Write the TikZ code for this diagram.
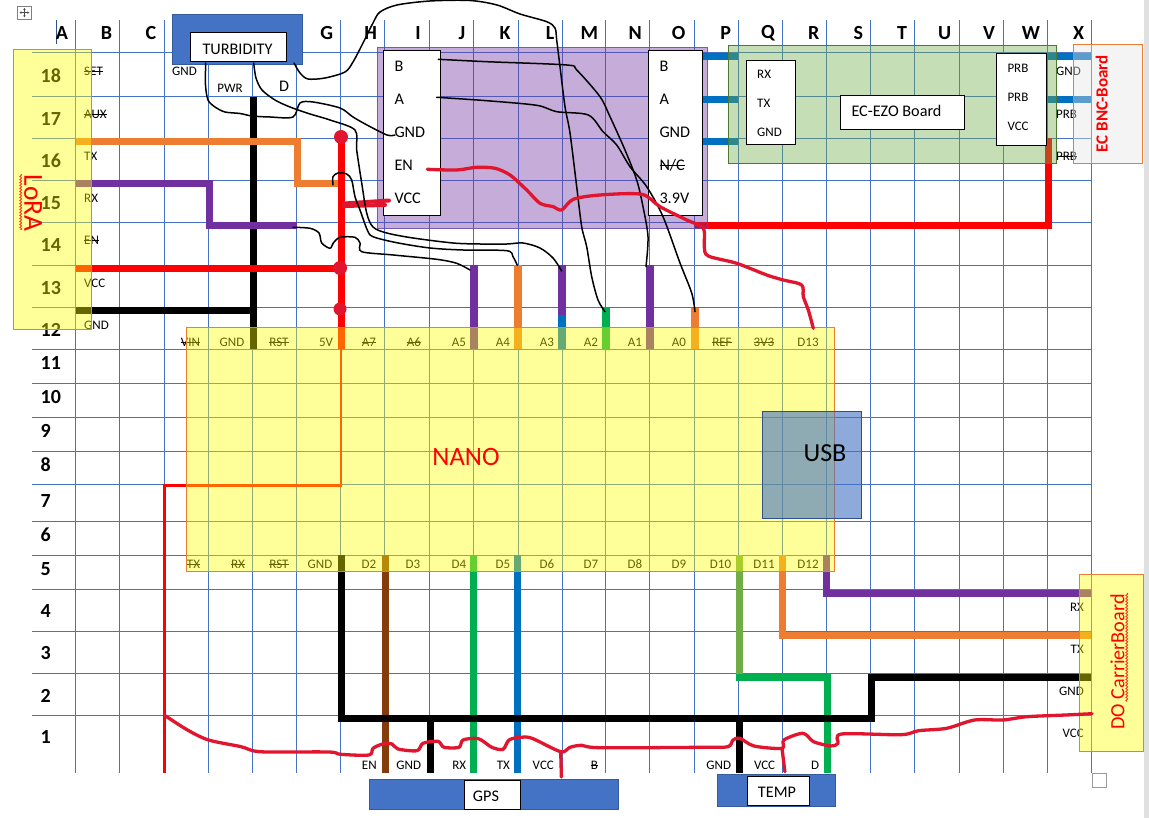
\documentclass[tikz,border=0pt]{standalone}
\usepackage{fontspec}
\setmainfont{Carlito}
\usetikzlibrary{decorations.pathmorphing,arrows.meta}
\newcommand{\strk}[1]{\leavevmode\setbox0=\hbox{#1}\rlap{\rule[.26em]{\wd0}{.6pt}}\box0}
\definecolor{gridblue}{HTML}{4472C4}
\definecolor{wOrange}{HTML}{ED7D31}
\definecolor{wPurple}{HTML}{7030A0}
\definecolor{wBlue}{HTML}{0070C0}
\definecolor{wGreen}{HTML}{00B050}
\definecolor{wLime}{HTML}{70AD47}
\definecolor{wBrown}{HTML}{843C0C}
\definecolor{inkred}{HTML}{E2152F}
\definecolor{boardY}{RGB}{255,255,0}
\definecolor{pureR}{RGB}{255,0,0}
\tikzset{
  gridline/.style={gridblue,line width=1pt},
  wire/.style={line width=7pt,line cap=butt,line join=miter},
  pinwire/.style={line width=8pt,line cap=butt},
  thinred/.style={pureR,line width=2.6pt,line join=miter},
  inkblack/.style={black,line width=1.5pt,line cap=round,line join=round},
  inkr/.style={inkred,line width=3.3pt,line cap=round,line join=round},
  yboard/.style={draw=wOrange,line width=1pt,fill=boardY,fill opacity=.4},
  whitebox/.style={draw=black,line width=1pt,fill=white},
  bluebox/.style={draw=gridblue!80!black,line width=1pt,fill=gridblue},
  txt/.style={inner sep=0pt,font=\fontsize{13}{15}\selectfont},
  bigt/.style={inner sep=0pt,font=\fontsize{16.2}{19}\selectfont},
  lbl/.style={inner sep=0pt,font=\fontsize{20}{24}\selectfont\bfseries},
  squiggle/.style={pureR,line width=.6pt,decorate,decoration={snake,amplitude=1pt,segment length=3pt}},
}
\begin{document}
\begin{tikzpicture}[x=1pt,y=-1pt]
\path[use as bounding box,fill=white] (0,0) rectangle (1149,818);
\fill[black!12] (1144.3,0) rectangle (1149,818);
% grid
\foreach \yy in {53,96.5,138.5,180.5,222.5,265.5,307.5,349.3,383.3,417.3,451.3,484.3,521.3,555.3,589.5,631.5,673.5,715.5}
  \draw[gridline] (32,\yy) -- (1091,\yy);
\foreach \xx in {75.5,119.5,164.3,208.5,252.5,296.5,340.5,384.5,429.5,473,518,562,605.5,649.5,694.5,738.6,782.5,826.5,870,914,959,1003,1047,1091}
  \draw[gridline] (\xx,20) -- (\xx,772.7);
\draw[gridblue!70!black,line width=.7pt] (56,20) -- (56,44);
% column heads
\foreach \cn/\cx in {A/62,B/106.5,C/151,G/326.7,H/370.7,I/418,J/462,K/505,L/550,M/589.3,N/635.3,O/678.7,P/725.7,Q/768,R/813.7,S/858.3,T/902,U/944.7,V/989,W/1031,X/1078.7}
  \node[lbl] (col\cn) at (\cx,33.5) {\cn};
% row heads
\foreach \rn/\ry in {18/75.3,17/118.7,16/160.7,15/202.7,14/244.7,13/288,12/330,11/362.7,10/396.7,9/430.7,8/465,7/500.7,6/534.7,5/568.7,4/611.3,3/653.3,2/695.7,1/737.3}
  \node[lbl,anchor=west] (row\rn) at (40.5,\ry) {\rn};
% cell texts
\node[txt,anchor=west] (tSET) at (84,71) {\strk{SET}};
\node[txt,anchor=west] (tAUX) at (84,114) {\strk{AUX}};
\node[txt,anchor=west] (tTX) at (84,156) {TX};
\node[txt,anchor=west] (tRX) at (84,198) {RX};
\node[txt,anchor=west] (tEN) at (84,240) {\strk{EN}};
\node[txt,anchor=west] (tVCC) at (84,283) {VCC};
\node[txt,anchor=west] (tGND) at (84,325) {GND};
\node[txt] (tbGND) at (184.5,71) {GND};
\node[txt] (tbPWR) at (230,88) {PWR};
\node[bigt] (tbD) at (284,86) {D};
\foreach \tn/\tx/\tt in {VIN/190.5/\strk{VIN},GND/232/GND,RST/279/\strk{RST},VV/326/5V,AS/369/\strk{A7},AX/414/\strk{A6},AF/459/A5,AV/503/A4,AT/547/A3,AW/591/A2,AU/635/A1,AZ/679/A0,REF/722/\strk{REF},TVT/764/\strk{3V3},DT/808/D13}
  \node[txt] (np\tn) at (\tx,342) {\tt};
\foreach \tn/\tx/\tt in {TX/193.5/\strk{TX},RX/238/\strk{RX},RST/279/\strk{RST},GND/320/GND,D2/369/D2,D3/413/D3,D4/459/D4,D5/503/D5,D6/547/D6,D7/591/D7,D8/635/D8,D9/679/D9,DA/720.5/D10,DB/764/D11,DC/808/D12}
  \node[txt] (ns\tn) at (\tx,564.3) {\tt};
\foreach \tn/\tx/\tt in {EN/369.3/EN,GND/408.7/GND,RX/459.3/RX,TX/503.3/TX,VCC/543.3/VCC,B/594.3/\strk{B}}
  \node[txt] (gp\tn) at (\tx,765) {\tt};
\foreach \tn/\tx/\tt in {GND/718.7/GND,VCC/764.6/VCC,D/815/D}
  \node[txt] (tp\tn) at (\tx,765) {\tt};
\node[txt,anchor=east] (doRX) at (1084,607) {RX};
\node[txt,anchor=east] (doTX) at (1084,649) {TX};
\node[txt,anchor=east] (doGND) at (1084,691) {GND};
\node[txt,anchor=east] (doVCC) at (1084,733) {VCC};
\node[txt,anchor=west] (bnGND) at (1056,71) {GND};
\node[txt,anchor=west] (bnPA) at (1056,114) {PRB};
\node[txt,anchor=west] (bnPB) at (1056,156) {\strk{PRB}};
% pin coordinates
\coordinate (nGND) at (253,349.3);
\coordinate (n5V) at (341,349.3);
\coordinate (sGND) at (341,555.3);
\coordinate (sD2) at (385.4,555.3);
\coordinate (sD4) at (473.8,555.3);
\coordinate (sD5) at (517.8,555.3);
\coordinate (sD10) at (739,555.3);
\coordinate (sD11) at (782.8,555.3);
\coordinate (sD12) at (826.9,555.3);
\coordinate (oGND) at (1091,677);
\coordinate (oTX) at (1091,635);
\coordinate (oRX) at (1091,593);
\coordinate (lTX) at (75.5,142);
\coordinate (lRX) at (75.5,184);
\coordinate (lVCC) at (75.5,269);
\coordinate (lGND) at (75.5,311);
% wires beneath the boards
\draw[wire,black] (253,96.7) -- (nGND);
\draw[wire,black] (lGND) -- (253,311);
\draw[wire,wOrange] (lTX) -- (297.3,142) -- (297.3,184) -- (341,184);
\draw[wire,wPurple] (lRX) -- (209,184) -- (209,226) -- (297,226);
\draw[wire,pureR] (lVCC) -- (341,269);
\draw[wire,pureR] (341,137) -- (n5V);
\draw[thinred] (n5V) -- (341,485.3) -- (164.3,485.3) -- (164.3,772.7);
\draw[wire,pureR] (695,226) -- (1048,226) -- (1048,138.5);
\draw[pinwire,wPurple] (474,265.3) -- (474,349.3);
\draw[pinwire,wOrange] (518,265.3) -- (518,349.3);
\draw[pinwire,wPurple] (561.7,265.3) -- (561.7,315);
\draw[pinwire,wBlue] (561.7,315) -- (561.7,349.3);
\draw[pinwire,wGreen] (605.7,307.7) -- (605.7,349.3);
\draw[pinwire,wPurple] (650,265.3) -- (650,349.3);
\draw[pinwire,wOrange] (694.5,307.7) -- (694.5,349.3);
\draw[wire,wBrown] (sD2) -- (385.4,772.7);
\draw[wire,wGreen] (sD4) -- (473.8,772.7);
\draw[wire,wBlue] (sD5) -- (517.8,772.7);
\draw[wire,wLime] (sD10) -- (739,677);
\draw[wire,wGreen] (735.5,677) -- (827,677) -- (827,772.7);
\draw[wire,wOrange] (sD11) -- (782.8,635) -- (oTX);
\draw[wire,wPurple] (sD12) -- (826.9,593) -- (oRX);
\draw[wire,black] (sGND) -- (341,718.3) -- (871,718.3) -- (871,677) -- (oGND);
\draw[wire,black] (430,718.3) -- (430,772.7);
\draw[wire,black] (739,718.3) -- (739,772.7);
% boards
\node[draw=wPurple!60!gridblue,line width=1pt,fill=wPurple,fill opacity=.4,draw opacity=.8,minimum width=330.6pt,minimum height=181.6pt,inner sep=0pt,anchor=north west] (rs) at (376.7,46.7) {};
\draw[wire,wBlue] (700,56.7) -- (738.3,56.7);
\draw[wire,wBlue] (700,100) -- (738.3,100);
\draw[wire,wBlue] (700,141.7) -- (738.3,141.7);
\draw[wire,wBlue] (1047,57) -- (1091,57);
\draw[wire,wBlue] (1047,100) -- (1091,100);
\node[draw=wLime!70!black,line width=1pt,fill=wLime,fill opacity=.4,minimum width=327.4pt,minimum height=118pt,inner sep=0pt,anchor=north west] (ezo) at (728.3,45.3) {};
\node[draw=wOrange,line width=1pt,fill=black!10,fill opacity=.4,minimum width=68.4pt,minimum height=119pt,inner sep=0pt,anchor=north west] (bnc) at (1073.3,44.3) {};
\node[yboard,minimum width=78pt,minimum height=280pt,inner sep=0pt,anchor=north west] (lora) at (12.5,49.5) {};
\node[yboard,minimum width=648.8pt,minimum height=243.8pt,inner sep=0pt,anchor=north west] (nano) at (185.5,327.5) {};
\node[yboard,minimum width=63.4pt,minimum height=176.4pt,inner sep=0pt,anchor=north west] (doboard) at (1079.3,574.3) {};
\node[draw=gridblue!70!black,line width=1pt,fill=gridblue,fill opacity=.6,text opacity=1,minimum width=98.4pt,minimum height=106.4pt,inner sep=0pt,anchor=north west] (usb) at (762.3,411.3) {};
\node[inner sep=0pt,font=\fontsize{26}{30}\selectfont] (usbt) at (825,453) {USB};
\node[inner sep=0pt,text=pureR,font=\fontsize{26.5}{30}\selectfont] (nanot) at (466,457) {NANO};
\node[inner sep=0pt,text=pureR,rotate=-90,font=\fontsize{27.5}{30}\selectfont] (lorat) at (33,203) {LoRA};
\draw[squiggle] (20.7,174) -- (20.7,230);
\node[inner sep=0pt,text=pureR,rotate=90,font=\fontsize{17}{20}\selectfont\bfseries] (bnct) at (1101.7,103.7) {EC BNC-Board};
\node[inner sep=0pt,text=pureR,rotate=90,font=\fontsize{20.2}{24}\selectfont] (dot) at (1117.3,662) {DO CarrierBoard};
\draw[squiggle] (1126.8,593) -- (1126.8,701.7);
% white boxes
\node[whitebox,minimum width=56.4pt,minimum height=165pt,inner sep=0pt,anchor=north west] (rsl) at (383.3,50.3) {};
\node[whitebox,minimum width=53.4pt,minimum height=165pt,inner sep=0pt,anchor=north west] (rsr) at (648.3,50.3) {};
\node[whitebox,minimum width=49pt,minimum height=84pt,inner sep=0pt,anchor=north west] (ezol) at (746.3,60.3) {};
\node[whitebox,minimum width=50pt,minimum height=92pt,inner sep=0pt,anchor=north west] (ezor) at (996.3,53.3) {};
\node[whitebox,minimum width=124pt,minimum height=34pt,inner sep=0pt,anchor=north west] (ezon) at (840.3,95.3) {};
\node[bigt,anchor=west] (ezot) at (851.3,111) {EC-EZO Board};
\foreach \tn/\ty/\tt in {B/66/B,A/99/A,G/132/GND,E/165/EN,V/198/VCC}
  \node[bigt,anchor=west] (rl\tn) at (394.3,\ty) {\tt};
\foreach \tn/\ty/\tt in {B/66/B,A/99/A,G/132/GND,E/165/\strk{N/C},V/198/3.9V}
  \node[bigt,anchor=west] (rr\tn) at (659.3,\ty) {\tt};
\foreach \tn/\ty/\tt in {R/74/RX,T/103/TX,G/132/GND}
  \node[txt,anchor=west] (el\tn) at (757,\ty) {\tt};
\foreach \tn/\ty/\tt in {A/68/PRB,B/97/PRB,V/126/VCC}
  \node[txt,anchor=west] (er\tn) at (1007.3,\ty) {\tt};
% sensors
\node[bluebox,minimum width=129.7pt,minimum height=49.4pt,inner sep=0pt,anchor=north west] (turb) at (172,14.3) {};
\node[whitebox,minimum width=96pt,minimum height=28.4pt,inner sep=0pt,anchor=north west] (turbl) at (190.3,32.3) {};
\node[bigt] (turbt) at (237.5,49) {TURBIDITY};
\node[bluebox,minimum width=248.4pt,minimum height=30.6pt,inner sep=0pt,anchor=north west] (gps) at (369.3,778.7) {};
\node[whitebox,minimum width=55.4pt,minimum height=29pt,inner sep=0pt,anchor=north west] (gpsl) at (464.3,780.3) {};
\node[bigt] (gpst) at (486,796) {GPS};
\node[bluebox,minimum width=117.3pt,minimum height=31.7pt,inner sep=0pt,anchor=north west] (temp) at (717.3,774) {};
\node[whitebox,minimum width=62pt,minimum height=28.4pt,inner sep=0pt,anchor=north west] (templ) at (747.4,776.3) {};
\node[bigt] (tempt) at (777,792) {TEMP};
% ink: thick red blobs
\fill[inkred] (341,137) circle (7pt);
\fill[inkred] (340,268) circle (7pt);
\fill[inkred] (340,309) circle (6.5pt);
\draw[inkred,line width=4pt,line cap=round] (344,203.5) -- (389,200.5);
\draw[inkred,line width=4pt,line cap=round] (344,206) -- (385,205);
% ink: black wires
\coordinate (iGND) at (395,135);
\coordinate (iB) at (438.3,59.3);
\coordinate (iA) at (436.7,97.3);
\coordinate (iA5) at (470,270);
\coordinate (iA4) at (517.3,265.3);
\coordinate (iA3) at (561.7,271);
\coordinate (iA2) at (605,311.7);
\coordinate (iA1) at (646,266.7);
\coordinate (iA0) at (695,311.7);
\draw[inkblack] plot[smooth,tension=.5] coordinates {(205.7,63) (205.5,85) (208,100) (215,107) (225,112) (240,113.5) (252,116) (270,117) (293,117) (300,103) (313,102) (340,108) (353,117) (367,125) (387,135) (iGND)};
\draw[inkblack] plot[smooth,tension=.5] coordinates {(253.7,63) (256,78) (262,90) (275,100) (290,107) (310,114) (330,120) (355,130) (356.7,150) (361.7,183) (366.7,213) (373,227) (386.7,233) (413,238) (453,243) (480,244) (507,244) (523,243) (540,248) (553,258) (iA3)};
\draw[inkblack] plot[smooth,tension=.5] coordinates {(333,185) (333,176.7) (338,173) (346.7,174) (351.7,180) (355,196.7) (360,210) (367.3,230) (373,236.7) (396.7,242.7) (430,248) (463,250) (506.7,250.7) (513,256.7) (iA4)};
\draw[inkblack] plot[smooth,tension=.5] coordinates {(293,227.3) (310,228.3) (319,233) (321.7,243) (330,248.3) (333.3,243) (340,237.3) (355,237.3) (360,243) (361.7,251.7) (393.3,255) (436.7,259.3) (456.7,263.3) (iA5)};
\draw[inkblack] plot[smooth,tension=.5] coordinates {(294,63) (300,73) (308,79) (325,78) (345,72) (353,62) (362,45) (373,23) (380,12) (397,5) (430,1) (470,0.5) (497,5) (520,14) (546.7,21.7) (555,28) (556.7,40) (560,66.7) (565,106.7) (570,133) (576.7,186.7) (581.7,226.7) (586.7,246.7) (591.7,276.7) (598,300) (iA2)};
\draw[inkblack] plot[smooth,tension=.5] coordinates {(iB) (486.7,61.7) (566.7,65) (576.7,70) (600,96.7) (610,116.7) (625,150) (636.7,180) (643,206.7) (648,236.7) (iA1)};
\draw[inkblack] plot[smooth,tension=.5] coordinates {(iA) (486.7,100.7) (536.7,105.3) (556.7,111.7) (588.3,115) (603,131.7) (616.7,145) (630,166.7) (646.7,186.7) (663,216.7) (680,263) (691.7,293) (iA0)};
% ink: red wires
\draw[inkr] plot[smooth,tension=.5] coordinates {(427.3,169.3) (456.7,170) (476.7,167.3) (495,168.3) (510,175) (526.7,190) (540,203.3) (553.3,206.7) (561.7,210) (573.3,199.3) (600,195) (641.7,194.3) (660,206.7) (686.7,220) (703.3,228.3) (704.3,246.7) (708.3,256) (736.7,263.3) (766.7,275) (783.3,280) (801.7,285) (803.3,296.7) (808.3,310) (813.3,328.3)};
\draw[inkr] plot[smooth,tension=.5] coordinates {(164.6,715.3) (187.5,730) (208.6,740) (241,746.7) (252.6,750.7) (268,752) (329,752) (340.6,754.3) (369,755) (373,748.3) (382.7,744) (392,744) (398,749) (417,750.7) (423,743.3) (438,741.3) (444,747.3) (459,747.3) (463,740) (478.4,738.7) (491.8,747.3) (503,749.3) (509,740) (520.5,737.3) (532,738.3) (560.7,751.7) (570,747.3) (581.7,745.3) (600,747.7) (701.5,747.3) (727.8,746.7) (733,740) (740,738.3) (754,746) (782,748.3) (783.8,740) (803,733.3) (813.6,741.7) (831,746) (838,743.3) (841.6,734) (901,734.7) (918.6,730.7) (946.6,728.3) (974.6,720) (1002.7,720) (1027,716.7) (1065.7,715) (1092,713.7)};
\draw[inkr] (560.7,751.7) -- (561.4,777);
\draw[inkr] (782,748.3) -- (784.9,771.7);
% page furniture
\draw[gray,line width=.8pt] (17.5,6) rectangle (31.3,19.3);
\draw[black!70,line width=.5pt,{Stealth[length=2pt,width=2.5pt]}-{Stealth[length=2pt,width=2.5pt]}] (24.4,8) -- (24.4,17.3);
\draw[black!70,line width=.5pt,{Stealth[length=2pt,width=2.5pt]}-{Stealth[length=2pt,width=2.5pt]}] (19.5,12.6) -- (29.3,12.6);
\draw[gray!80,line width=.9pt] (1092.3,773.3) rectangle (1106.7,787.7);
\end{tikzpicture}
\end{document}
